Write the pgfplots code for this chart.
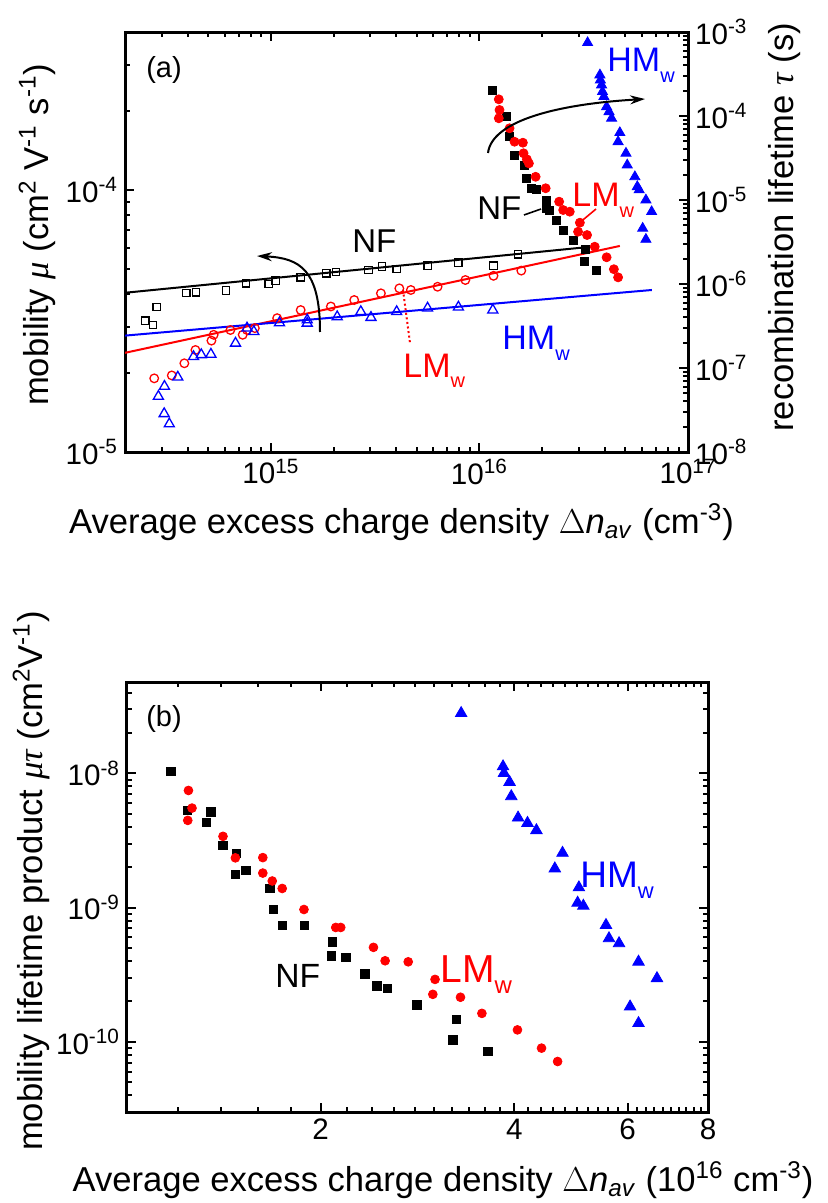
\documentclass[border=0pt]{standalone}
\usepackage{fontspec}
\setmainfont{Liberation Sans}
\newfontfamily\greekfont{Liberation Serif}
\usepackage{pgfplots}
\pgfplotsset{compat=1.18}
\usetikzlibrary{arrows.meta}

\newcommand\lab{\fontsize{17.3}{20}\selectfont}
\newcommand\tck{\fontsize{14.8}{17}\selectfont}
\newcommand\ann{\fontsize{17}{20}\selectfont}
\newcommand\gr[1]{{\greekfont\itshape #1}}
\newcommand\sub[2][10]{\raisebox{-5.5pt}{\fontsize{#1}{#1}\selectfont #2}}
\newcommand\pw[1]{10\textsuperscript{#1}}

\pgfplotsset{
  every axis/.append style={
    scale only axis,
    tick align=inside,
    axis line style={line width=1.5pt},
    major tick length=4.5pt,
    minor tick length=2.5pt,
    tick style={line width=1pt, black},
    tick label style={font=\tck},
    label style={font=\lab},
  },
}

\begin{document}
\begin{tikzpicture}
\useasboundingbox (0,0) rectangle (414pt,-601.5pt);

% ---------- panel (a): mobility ----------
\begin{axis}[
  xmode=log, ymode=log,
  at={(62.5pt,-226pt)}, anchor=south west,
  width=281.5pt, height=210pt,
  xmin=2e14, xmax=1e17, ymin=1e-5, ymax=4e-4,
  xtick={1e15,1e16,1e17}, xticklabels={{\pw{15}},{\pw{16}},{\pw{17}}},
  minor xtick={2e14,3e14,4e14,5e14,6e14,7e14,8e14,9e14,2e15,3e15,4e15,5e15,6e15,7e15,8e15,9e15,2e16,3e16,4e16,5e16,6e16,7e16,8e16,9e16},
  ytick={1e-5,1e-4}, yticklabels={{\pw{-5}},{\pw{-4}}},
  minor ytick={2e-5,3e-5,4e-5,5e-5,6e-5,7e-5,8e-5,9e-5,2e-4,3e-4},
  ytick pos=left,
  xlabel={Average excess charge density $\Delta$\textit{n}\textsubscript{\textit{av}} (cm\textsuperscript{-3})},
  ylabel={mobility \gr{μ} (cm\textsuperscript{2} V\textsuperscript{-1} s\textsuperscript{-1})},
  xlabel style={at={(rel axis cs:0.491,-0.1667)}, anchor=center},
  ylabel style={at={(rel axis cs:-0.156,0.517)}, anchor=center},
]
\addplot[black, line width=1pt] coordinates {(2e14,4.05e-5) (3.38e16,6.06e-5)};
\addplot[red, line width=1pt] coordinates {(2e14,2.39e-5) (4.71e16,6.11e-5)};
\addplot[blue, line width=1pt] coordinates {(2e14,2.78e-5) (6.71e16,4.15e-5)};
% NF open squares
\addplot[black, only marks, mark=square, mark size=1.85pt, mark options={line width=0.65pt}] coordinates {
(2.50e14,3.17e-5) (2.72e14,3.05e-5) (2.84e14,3.57e-5) (3.93e14,4.04e-5) (4.37e14,4.07e-5)
(6.10e14,4.13e-5) (7.61e14,4.40e-5) (9.78e14,4.37e-5) (1.054e15,4.51e-5) (1.39e15,4.64e-5)
(1.845e15,4.81e-5) (2.05e15,4.86e-5) (2.94e15,4.95e-5) (3.41e15,5.10e-5) (4.01e15,4.99e-5)
(5.64e15,5.14e-5) (7.93e15,5.28e-5) (1.168e16,5.13e-5) (1.528e16,5.68e-5)};
% LMw open circles
\addplot[red, only marks, mark=o, mark size=2.15pt, mark options={line width=0.65pt}] coordinates {
(2.76e14,1.91e-5) (3.35e14,1.96e-5) (3.85e14,2.18e-5) (4.35e14,2.45e-5) (5.19e14,2.66e-5)
(5.32e14,2.80e-5) (6.40e14,2.92e-5) (7.33e14,2.80e-5) (7.69e14,2.92e-5) (8.38e14,2.97e-5)
(1.072e15,3.24e-5) (1.39e15,3.48e-5) (1.94e15,3.59e-5) (2.51e15,3.80e-5) (3.37e15,4.03e-5)
(4.13e15,4.21e-5) (4.69e15,4.15e-5) (6.30e15,4.27e-5) (8.56e15,4.53e-5) (1.168e16,4.70e-5)
(1.587e16,4.92e-5)};
% HMw open triangles
\addplot[blue, only marks, mark=triangle, mark size=2.9pt, mark options={line width=0.65pt}] coordinates {
(2.89e14,1.63e-5) (3.09e14,1.78e-5) (3.08e14,1.40e-5) (3.26e14,1.28e-5) (3.58e14,1.93e-5)
(4.26e14,2.31e-5) (4.64e14,2.35e-5) (5.16e14,2.36e-5) (6.77e14,2.60e-5) (7.69e14,2.97e-5)
(8.29e14,2.88e-5) (1.10e15,3.11e-5) (1.494e15,3.10e-5) (1.494e15,3.19e-5) (2.08e15,3.28e-5)
(2.70e15,3.43e-5) (3.02e15,3.26e-5) (4.01e15,3.43e-5) (5.64e15,3.54e-5) (7.93e15,3.57e-5)
(1.159e16,3.48e-5)};
\end{axis}

% ---------- panel (a): lifetime ----------
\begin{axis}[
  xmode=log, ymode=log,
  at={(62.5pt,-226pt)}, anchor=south west,
  width=281.5pt, height=210pt,
  xmin=2e14, xmax=1e17, ymin=1e-8, ymax=1e-3,
  hide x axis,
  axis y line*=right, tick align=inside,
  ytick={1e-8,1e-7,1e-6,1e-5,1e-4,1e-3},
  yticklabels={{\pw{-8}},{\pw{-7}},{\pw{-6}},{\pw{-5}},{\pw{-4}},{\pw{-3}}},
  minor ytick={2e-8,3e-8,4e-8,5e-8,6e-8,7e-8,8e-8,9e-8,2e-7,3e-7,4e-7,5e-7,6e-7,7e-7,8e-7,9e-7,2e-6,3e-6,4e-6,5e-6,6e-6,7e-6,8e-6,9e-6,2e-5,3e-5,4e-5,5e-5,6e-5,7e-5,8e-5,9e-5,2e-4,3e-4,4e-4,5e-4,6e-4,7e-4,8e-4,9e-4},
  ylabel={recombination lifetime \gr{τ} (s)},
  ylabel style={at={(rel axis cs:1.1705,0.535)}, anchor=center},
]
\addplot[black, only marks, mark=square*, mark size=2pt] coordinates {
(1.159e16,2.04e-4) (1.344e16,9.81e-5) (1.394e16,5.67e-5) (1.473e16,3.43e-5) (1.646e16,2.61e-5)
(1.677e16,1.81e-5) (1.773e16,1.38e-5) (1.873e16,1.32e-5) (2.093e16,1.0e-5) (2.093e16,7.96e-6)
(2.17e16,7.60e-6) (2.34e16,5.78e-6) (2.52e16,4.39e-6) (2.81e16,3.34e-6) (3.23e16,2.59e-6)
(3.20e16,1.84e-6) (3.64e16,1.44e-6)};
\addplot[red, only marks, mark=*, mark size=2.25pt] coordinates {
(1.238e16,1.58e-4) (1.248e16,1.18e-4) (1.238e16,9.39e-5) (1.394e16,7.14e-5) (1.473e16,4.94e-5)
(1.615e16,4.81e-5) (1.627e16,3.60e-5) (1.688e16,3.05e-5) (1.726e16,2.73e-5) (1.859e16,1.89e-5)
(2.077e16,1.38e-5) (2.41e16,9.55e-6) (2.52e16,7.60e-6) (2.71e16,7.26e-6) (3.03e16,5.37e-6)
(2.97e16,4.19e-6) (3.28e16,3.83e-6) (3.57e16,2.78e-6) (4.07e16,2.08e-6) (4.41e16,1.50e-6)
(4.62e16,1.20e-6)};
\addplot[blue, only marks, mark=triangle*, mark size=2.9pt] coordinates {
(3.30e16,7.46e-4) (3.78e16,3.08e-4) (3.80e16,2.68e-4) (3.85e16,2.34e-4) (3.89e16,1.95e-4)
(3.95e16,1.70e-4) (4.07e16,1.29e-4) (4.18e16,1.125e-4) (4.30e16,9.39e-5) (4.71e16,6.33e-5)
(4.62e16,4.94e-5) (5.04e16,3.60e-5) (5.11e16,2.61e-5) (5.56e16,1.89e-5) (5.71e16,1.44e-5)
(5.83e16,1.32e-5) (6.28e16,1.0e-5) (6.69e16,7.26e-6) (6.06e16,4.60e-6) (6.28e16,3.40e-6)};
\end{axis}

% ---------- panel (b) ----------
\begin{axis}[
  xmode=log, ymode=log,
  at={(63.5pt,-556pt)}, anchor=south west,
  width=290.5pt, height=215pt,
  xmin=1, xmax=8, ymin=3e-11, ymax=4.8e-8,
  xtick={2,4,6,8}, xticklabels={2,4,6,8},
  minor xtick={1.2,1.4,1.6,1.8,2.2,2.4,2.6,2.8,3,3.2,3.4,3.6,3.8,4.2,4.4,4.6,4.8,5,5.2,5.4,5.6,5.8,6.2,6.4,6.6,6.8,7,7.2,7.4,7.6,7.8},
  ytick={1e-10,1e-9,1e-8}, yticklabels={{\pw{-10}},{\pw{-9}},{\pw{-8}}},
  minor ytick={4e-11,5e-11,6e-11,7e-11,8e-11,9e-11,2e-10,3e-10,4e-10,5e-10,6e-10,7e-10,8e-10,9e-10,2e-9,3e-9,4e-9,5e-9,6e-9,7e-9,8e-9,9e-9,2e-8,3e-8,4e-8},
  xlabel={Average excess charge density $\Delta$\textit{n}\textsubscript{\textit{av}} (10\textsuperscript{16} cm\textsuperscript{-3})},
  ylabel={mobility lifetime product \gr{μτ} (cm\textsuperscript{2}V\textsuperscript{-1})},
  xlabel style={at={(rel axis cs:0.5439,-0.158)}, anchor=center},
  ylabel style={at={(rel axis cs:-0.165,0.537)}, anchor=center},
]
\addplot[black, only marks, mark=square*, mark size=2.1pt] coordinates {
(1.170,1.035e-8) (1.242,5.31e-9) (1.351,5.16e-9) (1.328,4.34e-9) (1.410,2.91e-9)
(1.479,2.55e-9) (1.474,1.765e-9) (1.531,1.90e-9) (1.667,1.39e-9) (1.688,9.69e-10)
(1.743,7.41e-10) (1.889,7.41e-10) (2.086,5.57e-10) (2.078,4.36e-10) (2.188,4.26e-10)
(2.343,3.20e-10) (2.446,2.61e-10) (2.541,2.51e-10) (2.824,1.88e-10) (3.248,1.475e-10)
(3.210,1.035e-10) (3.640,8.47e-11)};
\addplot[red, only marks, mark=*, mark size=2.2pt] coordinates {
(1.246,7.47e-9) (1.262,5.52e-9) (1.243,4.47e-9) (1.410,3.40e-9) (1.474,2.35e-9)
(1.626,2.36e-9) (1.626,1.81e-9) (1.682,1.58e-9) (1.743,1.39e-9) (1.884,9.69e-10)
(2.111,7.12e-10) (2.149,7.12e-10) (2.416,5.06e-10) (2.519,4.02e-10) (2.736,3.95e-10)
(3.012,2.92e-10) (2.988,2.26e-10) (3.299,2.15e-10) (3.562,1.63e-10) (4.045,1.228e-10)
(4.409,8.98e-11) (4.670,7.14e-11)};
\addplot[blue, only marks, mark=triangle*, mark size=3.3pt] coordinates {
(3.307,2.81e-8) (3.842,1.127e-8) (3.855,1.005e-8) (3.933,8.62e-9) (3.957,6.75e-9)
(4.054,4.68e-9) (4.193,4.27e-9) (4.329,3.77e-9) (4.753,2.555e-9) (4.624,1.956e-9)
(5.040,1.413e-9) (5.017,1.086e-9) (5.121,1.031e-9) (5.553,7.41e-10) (5.613,5.90e-10)
(5.819,5.42e-10) (6.239,3.95e-10) (6.665,2.975e-10) (6.053,1.83e-10) (6.239,1.377e-10)};
\end{axis}

% ---------- annotations (pixel grid of the reference) ----------
\begin{scope}[x=0.5pt,y=-0.5pt]
\node[font=\fontsize{14.5}{17}\selectfont] at (164,70) {(a)};
\node[anchor=base west, inner sep=0, font=\fontsize{16.5}{19}\selectfont] at (352,253) {NF};
\draw[line width=1pt, -{Stealth[length=7.5pt,width=4.5pt]}] (320,332) .. controls (320,270) and (300,258) .. (257,256);
\draw[line width=1pt, -{Stealth[length=7.5pt,width=4.5pt]}] (488,153) .. controls (492,120) and (560,104) .. (645,99);
\node[anchor=base west, inner sep=0, font=\fontsize{16.5}{19}\selectfont] at (477,220) {NF};
\draw[line width=0.8pt] (524,215) -- (541,209);
\node[anchor=base west, inner sep=0, font=\ann, red] at (572,207) {LM\sub{w}};
\draw[line width=0.8pt, red] (596,209) -- (578,224);
\node[anchor=base west, inner sep=0, font=\ann, blue] at (607,72) {HM\sub{w}};
\node[anchor=base west, inner sep=0, font=\ann, red] at (403,377) {LM\sub{w}};
\draw[line width=1pt, red, dash pattern=on 1pt off 1.3pt] (403,290) -- (410,343);
\node[anchor=base west, inner sep=0, font=\ann, blue] at (502,350) {HM\sub{w}};
\node[font=\fontsize{14.5}{17}\selectfont] at (164,719) {(b)};
\node[anchor=base west, inner sep=0, font=\fontsize{16.8}{20}\selectfont] at (275,987) {NF};
\node[anchor=base west, inner sep=0, font=\fontsize{19.5}{22}\selectfont, red] at (440,982) {LM\sub[12]{w}};
\node[anchor=base west, inner sep=0, font=\fontsize{18.5}{22}\selectfont, blue] at (580,887) {HM\sub[11]{w}};
\end{scope}
\end{tikzpicture}
\end{document}
